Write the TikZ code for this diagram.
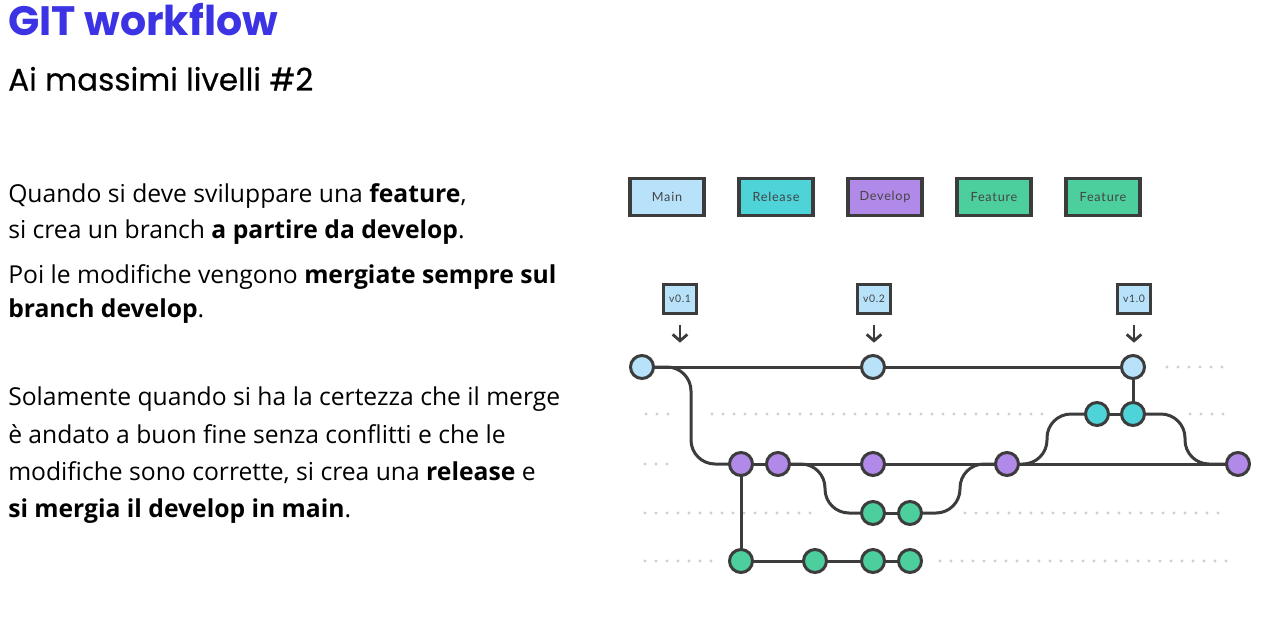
\documentclass[tikz,border=0pt]{standalone}
\usepackage{fontspec}
\setmainfont{Open Sans}
\newfontfamily\titlefont{Poppins}
\newfontfamily\subfont{Poppins}[FakeBold=0.5]
\newfontfamily\labelfont{Lato}[LetterSpace=6]
\usetikzlibrary{arrows.meta,backgrounds}
\definecolor{mainc}{HTML}{B8E2FA}
\definecolor{relc}{HTML}{4DD3D8}
\definecolor{devc}{HTML}{B189E8}
\definecolor{featc}{HTML}{4DCF9D}
\definecolor{edgec}{HTML}{3C3C3C}
\definecolor{dotc}{HTML}{CFCFCF}
\definecolor{titlec}{HTML}{3B33E4}
\definecolor{labc}{HTML}{444444}
\begin{document}
\begin{tikzpicture}[x=0.75pt,y=-0.75pt,
  commit/.style={circle,draw=edgec,line width=2.25pt,minimum size=17.25pt,inner sep=0pt},
  branch/.style={draw=edgec,line width=2.25pt,rounded corners=18pt},
  legendbox/.style={draw=edgec,line width=2.6pt,minimum width=55.5pt,minimum height=27.75pt,inner sep=0pt,
    font=\labelfont\fontsize{9.5pt}{10pt}\selectfont,text=labc},
  tagbox/.style={draw=edgec,fill=mainc,line width=2pt,minimum width=24.4pt,minimum height=21.4pt,inner sep=0pt,
    font=\labelfont\fontsize{7.8pt}{8pt}\selectfont,text=labc},
  tagarrow/.style={draw=edgec,line width=2.1pt,-{Straight Barb[length=4.8pt,width=11pt]}},
  guide/.style={draw=dotc,line width=2.4pt,line cap=round,dash pattern=on 0pt off 8.25pt},
  body/.style={anchor=base west,inner sep=0pt,font=\fontsize{18.5pt}{22pt}\selectfont}
]
% texts
\node[anchor=base west,inner sep=0pt,text=titlec,font=\titlefont\bfseries\fontsize{30.8pt}{32pt}\selectfont] (title) at (8,35) {GIT workflow};
\node[anchor=base west,inner sep=0pt,font=\subfont\fontsize{23.3pt}{25pt}\selectfont] (subtitle) at (8,90.5) {Ai massimi livelli \#2};
\node[body] (l1) at (8,202) {Quando si deve sviluppare una \textbf{feature},};
\node[body] (l2) at (8,238) {si crea un branch \textbf{a partire da develop}.};
\node[body] (l3) at (8,283) {Poi le modifiche vengono \textbf{mergiate sempre sul}};
\node[body] (l4) at (8,317) {\textbf{branch develop}.};
\node[body] (l5) at (8,405) {Solamente quando si ha la certezza che il merge};
\node[body] (l6) at (8,443) {è andato a buon fine senza conflitti e che le};
\node[body] (l7) at (8,480) {modifiche sono corrette, si crea una \textbf{release} e};
\node[body] (l8) at (8,517) {\textbf{si mergia il develop in main}.};
% legend
\node[legendbox,fill=mainc] (lgm) at (667,197) {Main};
\node[legendbox,fill=relc] (lgr) at (776,197) {Release};
\node[legendbox,fill=devc] (lgd) at (885,197) {Develop};
\node[legendbox,fill=featc] (lgf1) at (994,197) {Feature};
\node[legendbox,fill=featc] (lgf2) at (1103,197) {Feature};
% tags
\node[tagbox] (t1) at (680,299) {v0.1};
\node[tagbox] (t2) at (874,299) {v0.2};
\node[tagbox] (t3) at (1134,299) {v1.0};
% commits
\node[commit,fill=mainc] (m1) at (642,367) {};
\node[commit,fill=mainc] (m2) at (873,367) {};
\node[commit,fill=mainc] (m3) at (1133,367) {};
\node[commit,fill=relc] (r1) at (1097,414) {};
\node[commit,fill=relc] (r2) at (1133,414) {};
\node[commit,fill=devc] (d1) at (741,464) {};
\node[commit,fill=devc] (d2) at (778,464) {};
\node[commit,fill=devc] (d3) at (873,464) {};
\node[commit,fill=devc] (d4) at (1007,464) {};
\node[commit,fill=devc] (d5) at (1238,464) {};
\node[commit,fill=featc] (fa1) at (873,513) {};
\node[commit,fill=featc] (fa2) at (910,513) {};
\node[commit,fill=featc] (fb1) at (741,561) {};
\node[commit,fill=featc] (fb2) at (815,561) {};
\node[commit,fill=featc] (fb3) at (873,561) {};
\node[commit,fill=featc] (fb4) at (910,561) {};
% tag arrows
\draw[tagarrow] ([yshift=-7.5pt]t1.south) -- ([yshift=8.5pt]m1.north-|t1.south);
\draw[tagarrow] ([yshift=-7.5pt]t2.south) -- ([yshift=8.5pt]m2.north-|t2.south);
\draw[tagarrow] ([yshift=-7.5pt]t3.south) -- ([yshift=8.5pt]m3.north-|t3.south);
\begin{scope}[on background layer]
\fill[white] (0,0) rectangle (1261,619);
\useasboundingbox (0,0) rectangle (1261,619);
% guides
\draw[guide] (1167,367) -- (1228,367);
\draw[guide] (646,414) -- (668,414);
\draw[guide] (712,414) -- (1042,414);
\draw[guide] (1190,414) -- (1228,414);
\draw[guide] (645,464) -- (675,464);
\draw[guide] (645,513) -- (819,513);
\draw[guide] (965,513) -- (1228,513);
\draw[guide] (645,561) -- (711,561);
\draw[guide] (940,561) -- (1228,561);
% branches
\draw[branch] (m1.center) -- (m3.center);
\draw[branch] (m1.center) -- (691,367) -- (691,464) -- (d1.center);
\draw[branch] (d1.center) -- (d5.center);
\draw[branch] (d2.center) -- (825,464) -- (825,513) -- (fa1.center);
\draw[branch] (fa1.center) -- (fa2.center);
\draw[branch] (fa2.center) -- (960,513) -- (960,464) -- (d4.center);
\draw[branch] (d4.center) -- (1047,464) -- (1047,414) -- (r1.center);
\draw[branch] (r1.center) -- (r2.center);
\draw[branch] (r2.center) -- (1185,414) -- (1185,464) -- (d5.center);
\draw[branch] (r2.center) -- (m3.center);
\draw[branch] (d1.center) -- (fb1.center);
\draw[branch] (fb1.center) -- (fb4.center);
\end{scope}
\end{tikzpicture}
\end{document}
